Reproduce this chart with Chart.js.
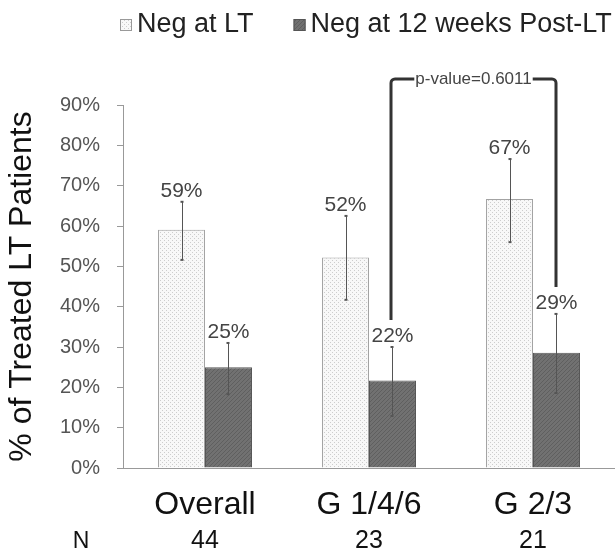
<!DOCTYPE html>
<html>
<head>
<meta charset="utf-8">
<script src="https://cdn.jsdelivr.net/npm/chart.js@4"></script>
<style>
    html, body { margin: 0; padding: 0; background: #fff; }
    #grafico-wrap { width: 615px; height: 554px; }
</style>
</head>
<body>
<div id="grafico-wrap"><canvas id="grafico"></canvas></div>
<script>
// dados
const categorias = ["Overall", "G 1/4/6", "G 2/3"];
const numeroPacientes = ["44", "23", "21"];
const rotulosSeries = ["Neg at LT", "Neg at 12 weeks Post-LT"];
const negNoLT = [59.1, 52.2, 66.7];
const neg12Semanas = [25.0, 21.7, 28.6];
const erroNegNoLT = [[51.6, 66.0], [41.7, 62.5], [56.0, 76.6]];
const erroNeg12Semanas = [[18.3, 31.0], [12.9, 30.0], [18.6, 38.2]];
const eixoYMax = 90;
const eixoYPasso = 10;
const pValorTexto = "p-value=0.6011";
const pValorNivel = 96.5;

const FONTE = '"Liberation Sans", Arial, sans-serif';
Chart.defaults.font.family = FONTE;

const canvas = document.querySelector("#grafico");
const ctxPrincipal = canvas.getContext("2d");

function padraoPontilhado() {
    const c = document.createElement("canvas");
    c.width = 4; c.height = 4;
    const g = c.getContext("2d");
    g.fillStyle = "#f8f8f8";
    g.fillRect(0, 0, 4, 4);
    g.fillStyle = "#cdcdcd";
    g.fillRect(0, 0, 1, 1);
    g.fillRect(2, 2, 1, 1);
    return ctxPrincipal.createPattern(c, "repeat");
}

function padraoEscuro() {
    const c = document.createElement("canvas");
    c.width = 4; c.height = 4;
    const g = c.getContext("2d");
    g.fillStyle = "#717171";
    g.fillRect(0, 0, 4, 4);
    g.fillStyle = "#5f5f5f";
    for (let i = 0; i < 4; i++) g.fillRect(i, 3 - i, 1, 1);
    return ctxPrincipal.createPattern(c, "repeat");
}

const preenchimentoClaro = padraoPontilhado();
const preenchimentoEscuro = padraoEscuro();

// barras de erro, rotulos de % e o colchete do p-value
const extras = {
    id: "extras",
    afterDatasetsDraw(chart) {
        const ctx = chart.ctx;
        const escalaY = chart.scales.y;
        const erros = [erroNegNoLT, erroNeg12Semanas];
        const valores = [negNoLT, neg12Semanas];

        ctx.save();
        erros.forEach((serie, d) => {
            chart.getDatasetMeta(d).data.forEach((barra, i) => {
                const x = Math.round(barra.x) + 0.5;
                const yTopo = escalaY.getPixelForValue(serie[i][1]);
                const yBase = escalaY.getPixelForValue(serie[i][0]);
                ctx.strokeStyle = "#555";
                ctx.lineWidth = 1;
                ctx.beginPath();
                ctx.moveTo(x, yTopo);
                ctx.lineTo(x, yBase);
                ctx.stroke();
                ctx.fillStyle = "#555";
                ctx.fillRect(x - 2, yTopo - 1, 3, 2);
                ctx.fillRect(x - 2, yBase - 1, 3, 2);

                ctx.font = "21px " + FONTE;
                ctx.textAlign = "center";
                ctx.textBaseline = "middle";
                ctx.fillStyle = "#444";
                ctx.fillText(Math.round(valores[d][i]) + "%", barra.x, yTopo - 11);
            });
        });

        // colchete entre G 1/4/6 e G 2/3 (Post-LT)
        const barraA = chart.getDatasetMeta(1).data[1];
        const barraB = chart.getDatasetMeta(1).data[2];
        const xA = Math.round(barraA.x) - 1;
        const xB = Math.round(barraB.x);
        const yA = escalaY.getPixelForValue(erroNeg12Semanas[1][1]) - 27;
        const yB = escalaY.getPixelForValue(erroNeg12Semanas[2][1]) - 27;
        const yP = Math.round(escalaY.getPixelForValue(pValorNivel));

        ctx.font = "17px " + FONTE;
        const larguraTexto = ctx.measureText(pValorTexto).width;
        const xMeio = (xA + xB) / 2;

        ctx.strokeStyle = "#333";
        ctx.lineWidth = 3;
        ctx.lineJoin = "round";
        ctx.beginPath();
        ctx.moveTo(xA, yA);
        ctx.arcTo(xA, yP, xA + 6, yP, 4);
        ctx.lineTo(xMeio - larguraTexto / 2 - 1, yP);
        ctx.moveTo(xMeio + larguraTexto / 2 + 1, yP);
        ctx.arcTo(xB, yP, xB, yP + 6, 4);
        ctx.lineTo(xB, yB);
        ctx.stroke();

        ctx.fillStyle = "#444";
        ctx.textAlign = "center";
        ctx.textBaseline = "middle";
        ctx.fillText(pValorTexto, xMeio, yP);
        ctx.restore();
    },
    afterDraw(chart) {
        const ctx = chart.ctx;
        ctx.save();

        // "N" ao lado da linha de numeros
        const x2 = chart.scales.x2;
        ctx.font = "23px " + FONTE;
        ctx.fillStyle = "#111";
        ctx.textAlign = "center";
        ctx.textBaseline = "middle";
        ctx.fillText("N", chart.chartArea.left - 42, x2.top + 8 + 12.5);

        // legenda
        const preenchimentos = [preenchimentoClaro, preenchimentoEscuro];
        const bordas = ["#999", "#555"];
        let x = 120;
        const yCentro = 25;
        ctx.font = "27px " + FONTE;
        ctx.textAlign = "left";
        rotulosSeries.forEach((rotulo, i) => {
            ctx.fillStyle = preenchimentos[i];
            ctx.fillRect(x, yCentro - 6, 12, 12);
            ctx.strokeStyle = bordas[i];
            ctx.lineWidth = 1;
            ctx.strokeRect(x + 0.5, yCentro - 5.5, 11, 11);
            ctx.fillStyle = "#222";
            ctx.fillText(rotulo, x + 17, yCentro);
            x += 17 + ctx.measureText(rotulo).width + 40;
        });
        ctx.restore();
    }
};

new Chart(canvas, {
    type: "bar",
    data: {
        labels: categorias,
        datasets: [
            {
                label: rotulosSeries[0],
                data: negNoLT,
                backgroundColor: preenchimentoClaro,
                borderColor: "#a3a3a3",
                borderWidth: 1,
                categoryPercentage: 0.573,
                barPercentage: 1
            },
            {
                label: rotulosSeries[1],
                data: neg12Semanas,
                backgroundColor: preenchimentoEscuro,
                borderColor: "#555",
                borderWidth: 1,
                categoryPercentage: 0.573,
                barPercentage: 1
            }
        ]
    },
    options: {
        responsive: true,
        maintainAspectRatio: false,
        animation: false,
        layout: { padding: { top: 105, left: 0, right: 0, bottom: 0 } },
        plugins: {
            legend: { display: false },
            tooltip: { enabled: false }
        },
        scales: {
            x: {
                position: "bottom",
                weight: 0,
                afterFit: (escala) => { escala.height = 53; },
                grid: { display: false, drawTicks: false, tickLength: 0 },
                border: { display: true, color: "#999", width: 1 },
                ticks: {
                    color: "#111",
                    padding: 21,
                    font: { size: 32, lineHeight: 1 }
                }
            },
            x2: {
                type: "category",
                labels: numeroPacientes,
                position: "bottom",
                weight: 1,
                offset: true,
                afterFit: (escala) => { escala.height = 33; },
                grid: { display: false, drawTicks: false, tickLength: 0 },
                border: { display: false },
                ticks: {
                    color: "#111",
                    padding: 8,
                    font: { size: 25, lineHeight: 1 }
                }
            },
            y: {
                min: 0,
                max: eixoYMax,
                afterFit: (escala) => { escala.width = 123; },
                grid: {
                    display: true,
                    drawOnChartArea: false,
                    drawTicks: true,
                    tickLength: 6,
                    color: "#999"
                },
                border: { display: true, color: "#999", width: 1 },
                ticks: {
                    stepSize: eixoYPasso,
                    color: "#555",
                    padding: 17,
                    font: { size: 20 },
                    callback: (valor) => valor + "%"
                },
                title: {
                    display: true,
                    text: "% of Treated LT Patients",
                    color: "#111",
                    font: { size: 32, lineHeight: 1 },
                    padding: { top: 6, bottom: 0 }
                }
            }
        }
    },
    plugins: [extras]
});
</script>
</body>
</html>
